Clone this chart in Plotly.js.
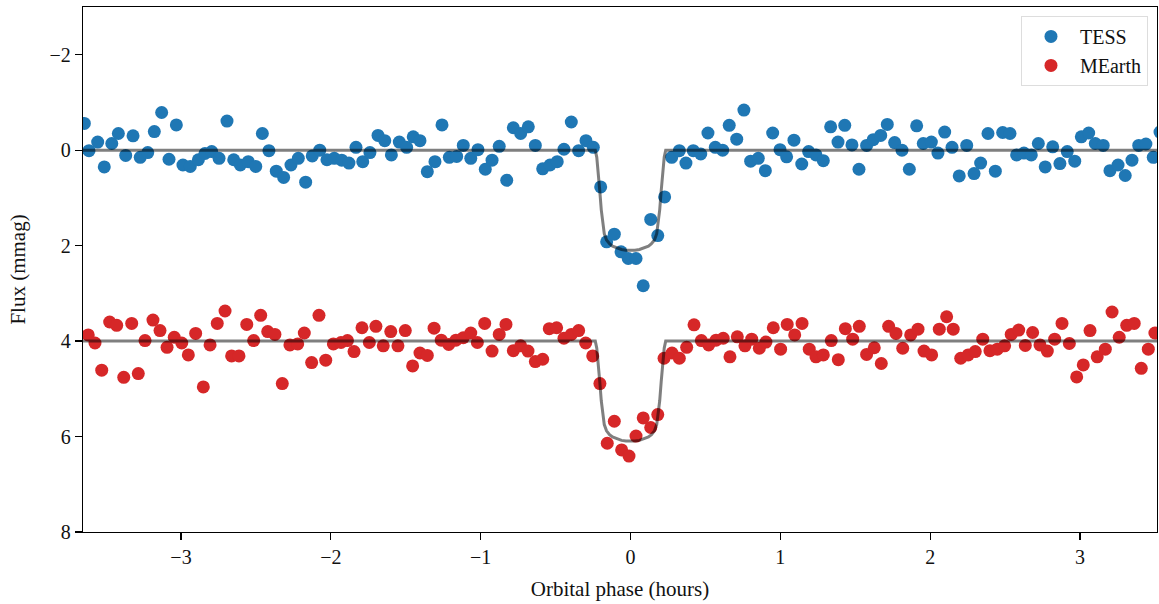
<!DOCTYPE html>
<html>
<head>
<meta charset="utf-8">
<script src="https://cdn.plot.ly/plotly-3.0.1.min.js"></script>
<style>html,body{margin:0;padding:0;background:#fff;}#chart{width:1159px;height:604px;}</style>
</head>
<body>
<div id="chart"></div>
<script>
// TESS phase (hours) and flux (mmag)
var tessPhase = [-3.645,-3.614,-3.556,-3.512,-3.462,-3.418,-3.369,-3.320,-3.272,-3.222,-3.178,-3.129,-3.080,-3.031,-2.987,-2.938,-2.884,-2.840,-2.795,-2.746,-2.693,-2.648,-2.604,-2.551,-2.501,-2.457,-2.413,-2.364,-2.315,-2.266,-2.217,-2.168,-2.124,-2.074,-2.026,-1.977,-1.927,-1.879,-1.832,-1.787,-1.739,-1.685,-1.640,-1.596,-1.543,-1.494,-1.450,-1.405,-1.356,-1.305,-1.258,-1.209,-1.160,-1.116,-1.066,-1.018,-0.969,-0.924,-0.876,-0.826,-0.782,-0.733,-0.682,-0.635,-0.586,-0.537,-0.489,-0.444,-0.395,-0.346,-0.297,-0.248,-0.199,-0.159,-0.108,-0.063,-0.015,0.037,0.085,0.135,0.182,0.228,0.275,0.326,0.370,0.419,0.469,0.517,0.566,0.615,0.659,0.709,0.757,0.802,0.853,0.900,0.949,0.998,1.042,1.091,1.143,1.189,1.238,1.287,1.336,1.385,1.430,1.478,1.525,1.576,1.620,1.670,1.714,1.763,1.812,1.861,1.910,1.954,2.008,2.052,2.097,2.146,2.194,2.244,2.293,2.337,2.386,2.435,2.484,2.533,2.577,2.626,2.675,2.722,2.768,2.818,2.866,2.915,2.965,3.009,3.058,3.102,3.155,3.200,3.254,3.302,3.347,3.392,3.440,3.489,3.534];
var tessFlux = [-0.56,0.01,-0.17,0.35,-0.14,-0.35,0.11,-0.30,0.15,0.05,-0.39,-0.79,0.19,-0.53,0.31,0.34,0.20,0.07,0.03,0.17,-0.61,0.20,0.31,0.24,0.34,-0.35,0.01,0.44,0.57,0.31,0.17,0.67,0.12,0.00,0.20,0.17,0.21,0.27,-0.06,0.24,0.05,-0.31,-0.20,0.10,-0.17,-0.06,-0.28,-0.20,0.45,0.24,-0.53,0.15,0.13,-0.10,0.17,-0.01,0.40,0.21,-0.08,0.63,-0.47,-0.35,-0.49,-0.10,0.39,0.31,0.24,-0.02,-0.59,0.01,-0.20,-0.06,0.77,1.92,1.76,2.13,2.27,2.27,2.84,1.45,1.79,0.98,0.15,0.01,0.27,0.01,0.08,-0.36,-0.06,0.00,-0.52,-0.23,-0.84,0.23,0.17,0.43,-0.36,-0.01,0.14,-0.21,0.29,0.03,0.10,0.22,-0.49,-0.17,-0.52,-0.11,0.40,-0.10,-0.22,-0.31,-0.54,-0.16,0.00,0.40,-0.51,-0.14,-0.17,0.06,-0.38,-0.06,0.54,-0.10,0.49,0.27,-0.35,0.44,-0.37,-0.35,0.10,0.06,0.10,-0.14,0.35,-0.07,0.28,0.03,0.23,-0.28,-0.36,-0.14,-0.10,0.43,0.31,0.53,0.21,-0.10,-0.13,0.15,-0.38];

// MEarth phase (hours) and flux (mmag, offset)
var mearthPhase = [-3.619,-3.574,-3.529,-3.476,-3.429,-3.382,-3.329,-3.285,-3.240,-3.187,-3.140,-3.093,-3.045,-2.995,-2.951,-2.902,-2.851,-2.806,-2.758,-2.706,-2.662,-2.613,-2.561,-2.515,-2.468,-2.421,-2.373,-2.324,-2.273,-2.221,-2.177,-2.128,-2.079,-2.034,-1.983,-1.932,-1.889,-1.845,-1.792,-1.743,-1.699,-1.650,-1.600,-1.552,-1.503,-1.454,-1.405,-1.356,-1.311,-1.263,-1.213,-1.165,-1.116,-1.066,-1.022,-0.973,-0.924,-0.876,-0.831,-0.782,-0.733,-0.684,-0.635,-0.586,-0.542,-0.493,-0.444,-0.395,-0.346,-0.299,-0.252,-0.204,-0.155,-0.108,-0.059,-0.010,0.037,0.085,0.135,0.182,0.224,0.277,0.326,0.375,0.424,0.473,0.522,0.571,0.619,0.664,0.713,0.764,0.809,0.860,0.904,0.953,1.002,1.046,1.096,1.145,1.193,1.238,1.287,1.340,1.387,1.434,1.483,1.527,1.576,1.627,1.674,1.723,1.772,1.817,1.870,1.919,1.959,2.010,2.061,2.110,2.154,2.204,2.254,2.301,2.351,2.399,2.448,2.497,2.541,2.591,2.635,2.684,2.733,2.782,2.831,2.880,2.929,2.978,3.022,3.067,3.115,3.169,3.214,3.262,3.312,3.362,3.409,3.456,3.500];
var mearthFlux = [3.87,4.04,4.61,3.60,3.67,4.76,3.63,4.68,3.99,3.56,3.78,4.13,3.92,4.04,4.29,3.84,4.96,4.08,3.63,3.37,4.31,4.31,3.65,3.99,3.46,3.80,3.86,4.89,4.08,4.06,3.83,4.45,3.46,4.40,4.06,4.03,3.99,4.22,3.72,4.03,3.69,4.10,3.80,4.10,3.78,4.52,4.25,4.30,3.73,3.98,4.07,3.98,3.93,3.83,4.03,3.63,4.21,3.86,3.65,4.20,4.10,4.21,4.43,4.38,3.74,3.72,3.94,3.86,3.78,4.04,4.31,4.89,6.14,5.68,6.28,6.41,5.99,5.61,5.81,5.54,4.36,4.25,4.36,4.13,3.66,3.99,4.08,3.98,3.94,4.33,3.91,4.10,3.96,4.15,4.02,3.72,4.17,3.65,3.87,3.63,4.17,4.33,4.29,3.99,4.39,3.74,3.96,3.69,4.28,4.14,4.47,3.69,3.84,4.15,3.87,3.75,4.21,4.29,3.75,3.49,3.75,4.36,4.29,4.22,3.96,4.20,4.17,4.10,3.86,3.77,4.09,3.82,4.08,4.21,3.96,3.63,4.05,4.75,4.50,3.78,4.33,4.17,3.39,3.92,3.67,3.63,4.57,4.17,3.83];

// Transit model curves
var modelPhase = [-3.8,-0.235,-0.225,-0.215,-0.205,-0.195,-0.185,-0.175,-0.16,-0.14,-0.12,-0.09,-0.06,-0.03,0,0.03,0.06,0.09,0.12,0.14,0.16,0.175,0.185,0.195,0.205,0.215,0.225,0.235,3.8];
var tessModel = [0,0,0.15,0.45,0.85,1.25,1.55,1.75,1.88,1.96,2.01,2.05,2.08,2.095,2.1,2.095,2.08,2.05,2.01,1.96,1.88,1.75,1.55,1.25,0.85,0.45,0.15,0,0];
var mearthModel = [4,4,4.15,4.45,4.85,5.25,5.55,5.75,5.88,5.96,6.01,6.05,6.08,6.095,6.1,6.095,6.08,6.05,6.01,5.96,5.88,5.75,5.55,5.25,4.85,4.45,4.15,4,4];

var xTicks = [-3,-2,-1,0,1,2,3];
var yTicks = [-2,0,2,4,6,8];

var serif = 'Liberation Serif, Times New Roman, serif';
var traces = [
  {x: tessPhase, y: tessFlux, type: 'scatter', mode: 'markers', name: 'TESS',
   marker: {color: '#1f77b4', size: 13}},
  {x: mearthPhase, y: mearthFlux, type: 'scatter', mode: 'markers', name: 'MEarth',
   marker: {color: '#d62728', size: 13}},
  {x: modelPhase, y: tessModel, type: 'scatter', mode: 'lines', showlegend: false, hoverinfo: 'skip',
   line: {color: 'rgba(0,0,0,0.5)', width: 3}},
  {x: modelPhase, y: mearthModel, type: 'scatter', mode: 'lines', showlegend: false, hoverinfo: 'skip',
   line: {color: 'rgba(0,0,0,0.5)', width: 3}}
];

var layout = {
  width: 1159, height: 604,
  margin: {l: 83, r: 2, t: 7, b: 72},
  paper_bgcolor: '#fff', plot_bgcolor: '#fff',
  font: {family: serif, size: 20, color: '#111'},
  showlegend: true,
  legend: {x: 0.9916, xanchor: 'right', y: 0.983, yanchor: 'top', itemwidth: 48,
           bgcolor: 'rgba(255,255,255,0.9)', bordercolor: '#dddddd', borderwidth: 1,
           font: {family: serif, size: 20, color: '#111'}},
  xaxis: {range: [-3.654, 3.514], tickvals: xTicks, ticks: 'outside', ticklen: 7, tickwidth: 1.2,
          tickcolor: '#000', showline: true, mirror: true, linecolor: '#000', linewidth: 1.3,
          showgrid: false, zeroline: false, tickfont: {family: serif, size: 20, color: '#111'},
          title: {text: 'Orbital phase (hours)', font: {family: serif, size: 21, color: '#111'}, standoff: 14}},
  yaxis: {range: [8, -3], tickvals: yTicks, ticks: 'outside', ticklen: 7, tickwidth: 1.2,
          tickcolor: '#000', showline: true, mirror: true, linecolor: '#000', linewidth: 1.3,
          showgrid: false, zeroline: false, tickfont: {family: serif, size: 20, color: '#111'},
          title: {text: 'Flux (mmag)', font: {family: serif, size: 21, color: '#111'}, standoff: 18}}
};

Plotly.newPlot('chart', traces, layout, {staticPlot: true});
</script>
</body>
</html>
